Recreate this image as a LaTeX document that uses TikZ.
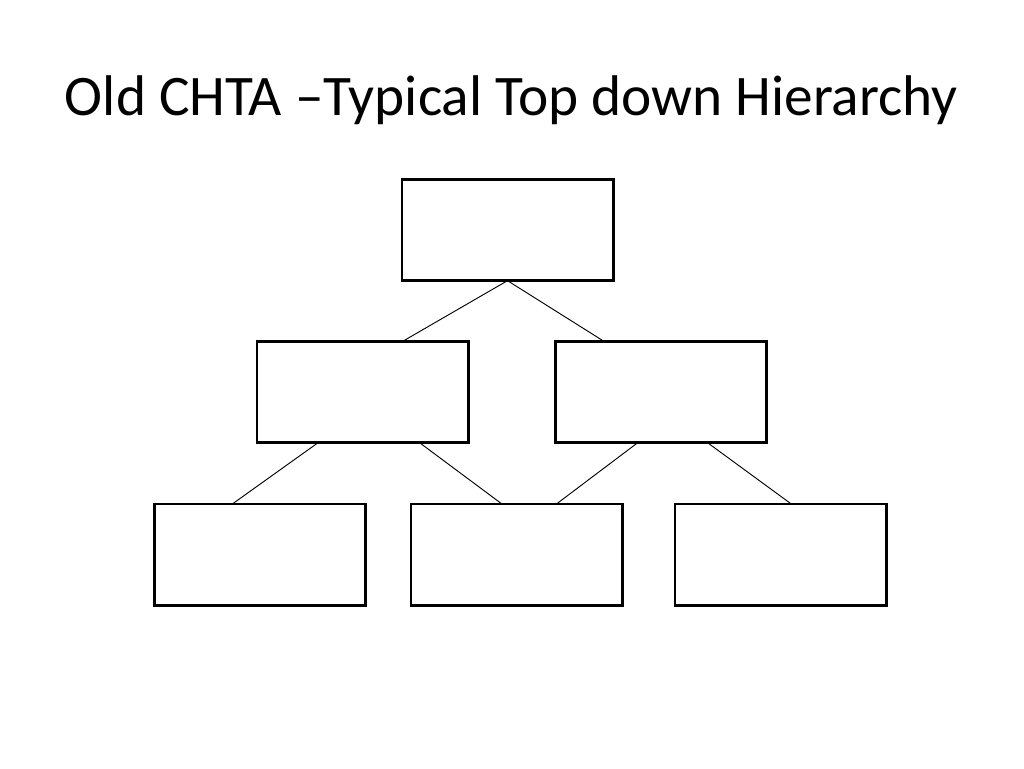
\documentclass[tikz,border=0pt]{standalone}
\usepackage{fontspec}
\setmainfont{Carlito}
\usetikzlibrary{calc}
\tikzset{
  orgbox/.style={draw=black, line width=2pt, fill=white, minimum width=158.5pt, minimum height=76pt, inner sep=0pt, outer sep=0pt},
  link/.style={draw=black, line width=0.7pt},
  titletext/.style={font=\fontsize{43}{47}\selectfont, anchor=base, inner sep=0pt}
}
\begin{document}
\begin{tikzpicture}[x=0.75pt, y=-0.75pt]
\useasboundingbox[fill=white] (0,0) rectangle (1024,768);
\node[titletext] (title) at (511.5,115) {Old CHTA –Typical Top down Hierarchy};
\node[orgbox] (top) at (507.5,230) {};
\node[orgbox] (ml) at (362.5,392) {};
\node[orgbox] (mr) at (661,392) {};
\node[orgbox] (bl) at (260,554.5) {};
\node[orgbox] (bm) at (516.5,554.5) {};
\node[orgbox] (br) at (780.5,554.5) {};
\draw[link] (top.south) -- ($(ml.north west)!0.69!(ml.north east)$);
\draw[link] (top.south) -- ($(mr.north west)!0.23!(mr.north east)$);
\draw[link] ($(ml.south west)!0.29!(ml.south east)$) -- ($(bl.north west)!0.37!(bl.north east)$);
\draw[link] ($(ml.south west)!0.77!(ml.south east)$) -- ($(bm.north west)!0.43!(bm.north east)$);
\draw[link] ($(mr.south west)!0.39!(mr.south east)$) -- ($(bm.north west)!0.69!(bm.north east)$);
\draw[link] ($(mr.south west)!0.72!(mr.south east)$) -- ($(br.north west)!0.55!(br.north east)$);
\end{tikzpicture}
\end{document}
